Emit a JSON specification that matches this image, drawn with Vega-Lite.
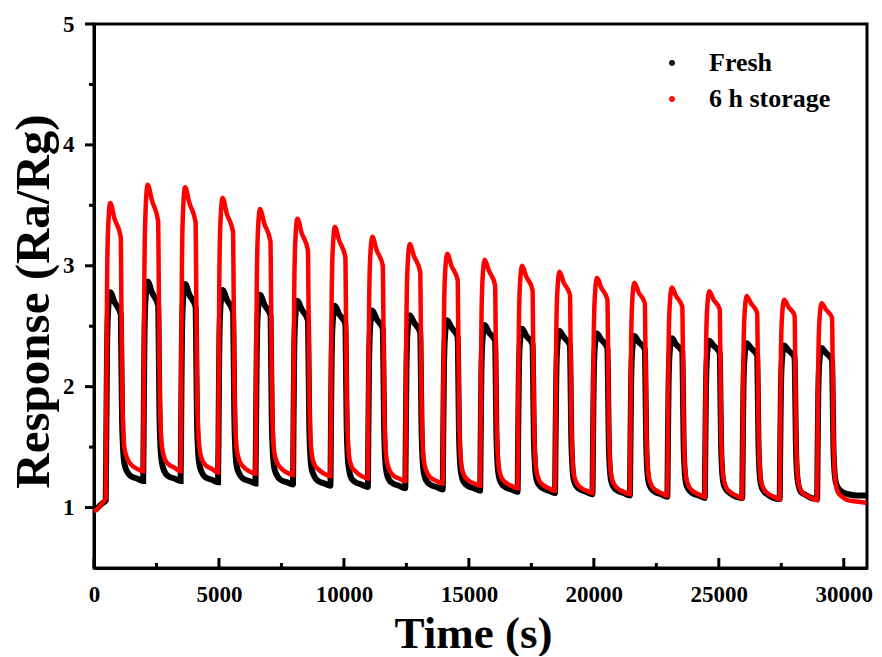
{
"$schema":"https://vega.github.io/schema/vega-lite/v6.json",
"width":773,"height":544,
"padding":{"left":8,"top":13,"right":0,"bottom":0},
"background":"white",
"config":{
"view":{"stroke":"black","strokeWidth":3}
},
"data":{"values":[
{"t":0,"a":0.98,"b":0.97},{"t":150,"a":1.0,"b":0.99},{"t":300,"a":1.03,"b":1.03},
{"t":470,"a":1.06,"b":1.08},{"t":495,"a":1.66,"b":1.93},{"t":520,"a":2.26,"b":2.79},{"t":560,"a":2.61,"b":3.28},{"t":650,"a":2.78,"b":3.52},{"t":820,"a":2.70,"b":3.39},{"t":1070,"a":2.60,"b":3.24},{"t":1090,"a":2.32,"b":2.85},{"t":1120,"a":1.77,"b":2.08},{"t":1160,"a":1.50,"b":1.69},{"t":1220,"a":1.36,"b":1.49},{"t":1320,"a":1.30,"b":1.41},{"t":1470,"a":1.26,"b":1.36},{"t":1720,"a":1.24,"b":1.32},
{"t":1968,"a":1.22,"b":1.30},{"t":1993,"a":1.80,"b":2.13},{"t":2018,"a":2.38,"b":2.96},{"t":2058,"a":2.71,"b":3.43},{"t":2148,"a":2.87,"b":3.67},{"t":2318,"a":2.78,"b":3.54},{"t":2568,"a":2.67,"b":3.37},{"t":2588,"a":2.38,"b":2.96},{"t":2618,"a":1.80,"b":2.13},{"t":2658,"a":1.51,"b":1.71},{"t":2718,"a":1.37,"b":1.51},{"t":2818,"a":1.30,"b":1.41},{"t":2968,"a":1.26,"b":1.36},{"t":3218,"a":1.24,"b":1.33},
{"t":3466,"a":1.22,"b":1.30},{"t":3491,"a":1.79,"b":2.12},{"t":3516,"a":2.36,"b":2.95},{"t":3556,"a":2.69,"b":3.42},{"t":3646,"a":2.85,"b":3.65},{"t":3816,"a":2.76,"b":3.52},{"t":4066,"a":2.66,"b":3.36},{"t":4086,"a":2.37,"b":2.95},{"t":4116,"a":1.79,"b":2.12},{"t":4156,"a":1.50,"b":1.70},{"t":4216,"a":1.36,"b":1.50},{"t":4316,"a":1.29,"b":1.40},{"t":4466,"a":1.25,"b":1.35},{"t":4716,"a":1.23,"b":1.32},
{"t":4964,"a":1.21,"b":1.29},{"t":4989,"a":1.77,"b":2.09},{"t":5014,"a":2.32,"b":2.88},{"t":5054,"a":2.64,"b":3.33},{"t":5144,"a":2.80,"b":3.56},{"t":5314,"a":2.72,"b":3.43},{"t":5564,"a":2.62,"b":3.28},{"t":5584,"a":2.34,"b":2.88},{"t":5614,"a":1.77,"b":2.08},{"t":5654,"a":1.48,"b":1.68},{"t":5714,"a":1.34,"b":1.48},{"t":5814,"a":1.28,"b":1.39},{"t":5964,"a":1.24,"b":1.34},{"t":6214,"a":1.22,"b":1.30},
{"t":6462,"a":1.20,"b":1.28},{"t":6487,"a":1.75,"b":2.05},{"t":6512,"a":2.29,"b":2.81},{"t":6552,"a":2.60,"b":3.25},{"t":6642,"a":2.76,"b":3.47},{"t":6812,"a":2.68,"b":3.35},{"t":7062,"a":2.59,"b":3.20},{"t":7082,"a":2.31,"b":2.81},{"t":7112,"a":1.75,"b":2.04},{"t":7152,"a":1.47,"b":1.66},{"t":7212,"a":1.33,"b":1.46},{"t":7312,"a":1.27,"b":1.38},{"t":7462,"a":1.23,"b":1.33},{"t":7712,"a":1.21,"b":1.29},
{"t":7960,"a":1.19,"b":1.27},{"t":7985,"a":1.72,"b":2.01},{"t":8010,"a":2.25,"b":2.75},{"t":8050,"a":2.56,"b":3.18},{"t":8140,"a":2.71,"b":3.39},{"t":8310,"a":2.64,"b":3.27},{"t":8560,"a":2.55,"b":3.13},{"t":8580,"a":2.28,"b":2.76},{"t":8610,"a":1.73,"b":2.01},{"t":8650,"a":1.45,"b":1.63},{"t":8710,"a":1.32,"b":1.45},{"t":8810,"a":1.26,"b":1.36},{"t":8960,"a":1.22,"b":1.32},{"t":9210,"a":1.20,"b":1.28},
{"t":9458,"a":1.18,"b":1.26},{"t":9483,"a":1.70,"b":1.98},{"t":9508,"a":2.22,"b":2.70},{"t":9548,"a":2.52,"b":3.11},{"t":9638,"a":2.67,"b":3.32},{"t":9808,"a":2.60,"b":3.21},{"t":10058,"a":2.52,"b":3.07},{"t":10078,"a":2.25,"b":2.70},{"t":10108,"a":1.71,"b":1.97},{"t":10148,"a":1.44,"b":1.61},{"t":10208,"a":1.31,"b":1.42},{"t":10308,"a":1.24,"b":1.34},{"t":10458,"a":1.21,"b":1.30},{"t":10708,"a":1.19,"b":1.26},
{"t":10956,"a":1.17,"b":1.24},{"t":10981,"a":1.68,"b":1.94},{"t":11006,"a":2.19,"b":2.64},{"t":11046,"a":2.48,"b":3.04},{"t":11136,"a":2.63,"b":3.24},{"t":11306,"a":2.56,"b":3.13},{"t":11556,"a":2.48,"b":3.00},{"t":11576,"a":2.22,"b":2.64},{"t":11606,"a":1.69,"b":1.93},{"t":11646,"a":1.42,"b":1.58},{"t":11706,"a":1.29,"b":1.40},{"t":11806,"a":1.23,"b":1.32},{"t":11956,"a":1.20,"b":1.27},{"t":12206,"a":1.18,"b":1.24},
{"t":12454,"a":1.16,"b":1.22},{"t":12479,"a":1.66,"b":1.91},{"t":12504,"a":2.16,"b":2.59},{"t":12544,"a":2.45,"b":2.98},{"t":12634,"a":2.59,"b":3.18},{"t":12804,"a":2.53,"b":3.08},{"t":13054,"a":2.45,"b":2.95},{"t":13074,"a":2.19,"b":2.60},{"t":13104,"a":1.67,"b":1.90},{"t":13144,"a":1.41,"b":1.55},{"t":13204,"a":1.28,"b":1.38},{"t":13304,"a":1.22,"b":1.30},{"t":13454,"a":1.19,"b":1.25},{"t":13704,"a":1.17,"b":1.22},
{"t":13952,"a":1.15,"b":1.20},{"t":13977,"a":1.64,"b":1.87},{"t":14002,"a":2.13,"b":2.53},{"t":14042,"a":2.41,"b":2.91},{"t":14132,"a":2.55,"b":3.10},{"t":14302,"a":2.49,"b":3.00},{"t":14552,"a":2.41,"b":2.88},{"t":14572,"a":2.16,"b":2.54},{"t":14602,"a":1.65,"b":1.86},{"t":14642,"a":1.39,"b":1.52},{"t":14702,"a":1.27,"b":1.35},{"t":14802,"a":1.21,"b":1.27},{"t":14952,"a":1.18,"b":1.23},{"t":15202,"a":1.16,"b":1.20},
{"t":15450,"a":1.14,"b":1.18},{"t":15475,"a":1.62,"b":1.83},{"t":15500,"a":2.10,"b":2.49},{"t":15540,"a":2.37,"b":2.86},{"t":15630,"a":2.51,"b":3.05},{"t":15800,"a":2.45,"b":2.96},{"t":16050,"a":2.38,"b":2.84},{"t":16070,"a":2.13,"b":2.50},{"t":16100,"a":1.63,"b":1.83},{"t":16140,"a":1.38,"b":1.50},{"t":16200,"a":1.26,"b":1.33},{"t":16300,"a":1.20,"b":1.25},{"t":16450,"a":1.17,"b":1.21},{"t":16700,"a":1.15,"b":1.18},
{"t":16948,"a":1.13,"b":1.16},{"t":16973,"a":1.60,"b":1.80},{"t":16998,"a":2.08,"b":2.45},{"t":17038,"a":2.35,"b":2.82},{"t":17128,"a":2.48,"b":3.00},{"t":17298,"a":2.42,"b":2.91},{"t":17548,"a":2.35,"b":2.80},{"t":17568,"a":2.10,"b":2.47},{"t":17598,"a":1.61,"b":1.80},{"t":17638,"a":1.37,"b":1.47},{"t":17698,"a":1.24,"b":1.31},{"t":17798,"a":1.19,"b":1.23},{"t":17948,"a":1.16,"b":1.19},{"t":18198,"a":1.14,"b":1.16},
{"t":18446,"a":1.12,"b":1.14},{"t":18471,"a":1.59,"b":1.77},{"t":18496,"a":2.06,"b":2.41},{"t":18536,"a":2.33,"b":2.77},{"t":18626,"a":2.46,"b":2.95},{"t":18796,"a":2.41,"b":2.86},{"t":19046,"a":2.34,"b":2.76},{"t":19066,"a":2.09,"b":2.43},{"t":19096,"a":1.60,"b":1.78},{"t":19136,"a":1.36,"b":1.45},{"t":19196,"a":1.23,"b":1.28},{"t":19296,"a":1.18,"b":1.21},{"t":19446,"a":1.15,"b":1.17},{"t":19696,"a":1.13,"b":1.14},
{"t":19944,"a":1.11,"b":1.12},{"t":19969,"a":1.58,"b":1.74},{"t":19994,"a":2.04,"b":2.37},{"t":20034,"a":2.31,"b":2.72},{"t":20124,"a":2.44,"b":2.90},{"t":20294,"a":2.39,"b":2.82},{"t":20544,"a":2.32,"b":2.72},{"t":20564,"a":2.08,"b":2.40},{"t":20594,"a":1.59,"b":1.75},{"t":20634,"a":1.34,"b":1.43},{"t":20694,"a":1.22,"b":1.27},{"t":20794,"a":1.17,"b":1.20},{"t":20944,"a":1.14,"b":1.16},{"t":21194,"a":1.12,"b":1.13},
{"t":21442,"a":1.10,"b":1.11},{"t":21467,"a":1.56,"b":1.72},{"t":21492,"a":2.02,"b":2.34},{"t":21532,"a":2.29,"b":2.69},{"t":21622,"a":2.42,"b":2.86},{"t":21792,"a":2.37,"b":2.78},{"t":22042,"a":2.31,"b":2.69},{"t":22062,"a":2.07,"b":2.37},{"t":22092,"a":1.58,"b":1.74},{"t":22132,"a":1.33,"b":1.42},{"t":22192,"a":1.21,"b":1.26},{"t":22292,"a":1.16,"b":1.19},{"t":22442,"a":1.13,"b":1.15},{"t":22692,"a":1.11,"b":1.12},
{"t":22940,"a":1.09,"b":1.10},{"t":22965,"a":1.55,"b":1.70},{"t":22990,"a":2.01,"b":2.30},{"t":23030,"a":2.27,"b":2.65},{"t":23120,"a":2.40,"b":2.82},{"t":23290,"a":2.35,"b":2.75},{"t":23540,"a":2.29,"b":2.66},{"t":23560,"a":2.05,"b":2.35},{"t":23590,"a":1.56,"b":1.72},{"t":23630,"a":1.32,"b":1.40},{"t":23690,"a":1.20,"b":1.25},{"t":23790,"a":1.15,"b":1.18},{"t":23940,"a":1.12,"b":1.14},{"t":24190,"a":1.10,"b":1.11},
{"t":24438,"a":1.08,"b":1.09},{"t":24463,"a":1.54,"b":1.69},{"t":24488,"a":1.99,"b":2.28},{"t":24528,"a":2.25,"b":2.62},{"t":24618,"a":2.38,"b":2.79},{"t":24788,"a":2.34,"b":2.72},{"t":25038,"a":2.28,"b":2.64},{"t":25058,"a":2.04,"b":2.33},{"t":25088,"a":1.56,"b":1.70},{"t":25128,"a":1.32,"b":1.39},{"t":25188,"a":1.20,"b":1.24},{"t":25288,"a":1.15,"b":1.17},{"t":25438,"a":1.12,"b":1.13},{"t":25688,"a":1.09,"b":1.10},
{"t":25936,"a":1.08,"b":1.08},{"t":25961,"a":1.53,"b":1.66},{"t":25986,"a":1.98,"b":2.25},{"t":26026,"a":2.23,"b":2.58},{"t":26116,"a":2.36,"b":2.75},{"t":26286,"a":2.32,"b":2.69},{"t":26536,"a":2.26,"b":2.61},{"t":26556,"a":2.02,"b":2.30},{"t":26586,"a":1.55,"b":1.69},{"t":26626,"a":1.31,"b":1.38},{"t":26686,"a":1.19,"b":1.22},{"t":26786,"a":1.14,"b":1.16},{"t":26936,"a":1.11,"b":1.12},{"t":27186,"a":1.08,"b":1.09},
{"t":27434,"a":1.07,"b":1.07},{"t":27459,"a":1.51,"b":1.65},{"t":27484,"a":1.96,"b":2.23},{"t":27524,"a":2.21,"b":2.56},{"t":27614,"a":2.34,"b":2.72},{"t":27784,"a":2.30,"b":2.66},{"t":28034,"a":2.24,"b":2.59},{"t":28054,"a":2.01,"b":2.28},{"t":28084,"a":1.54,"b":1.67},{"t":28124,"a":1.30,"b":1.37},{"t":28184,"a":1.19,"b":1.21},{"t":28284,"a":1.13,"b":1.14},{"t":28434,"a":1.11,"b":1.11},{"t":28684,"a":1.08,"b":1.08},
{"t":28932,"a":1.07,"b":1.06},{"t":28957,"a":1.51,"b":1.63},{"t":28982,"a":1.95,"b":2.20},{"t":29022,"a":2.20,"b":2.53},{"t":29112,"a":2.32,"b":2.69},{"t":29282,"a":2.28,"b":2.64},{"t":29532,"a":2.22,"b":2.57},{"t":29552,"a":2.00,"b":2.26},{"t":29582,"a":1.55,"b":1.65},{"t":29622,"a":1.32,"b":1.35},{"t":29682,"a":1.21,"b":1.19},{"t":29782,"a":1.16,"b":1.12},{"t":29932,"a":1.13,"b":1.09},{"t":30182,"a":1.11,"b":1.06},{"t":30500,"a":1.10,"b":1.05},{"t":30900,"a":1.10,"b":1.04}
]},
"layer":[
{"mark":{"type":"line","strokeWidth":6,"interpolate":"monotone"},
"encoding":{
"x":{"field":"t","type":"quantitative","title":"Time (s)","scale":{"domain":[0,30930],"nice":false,"zero":false},
"axis":{"grid":false,"values":[0,5000,10000,15000,20000,25000,30000],"format":"d","tickSize":-10,"tickWidth":3,"tickColor":"transparent","domainWidth":3,"domainColor":"black","labelPadding":25,"labelFont":"Liberation Serif","labelFontWeight":"bold","labelFontSize":23,"labelColor":"black","labelFlush":false,"labelOverlap":false,"title":"Time (s)","titleFont":"Liberation Serif","titleFontWeight":"bold","titleColor":"black","titleFontSize":45,"titleX":379,"titleY":79,"titleAlign":"center","titleBaseline":"alphabetic"}},
"y":{"field":"a","type":"quantitative","title":"Response (Ra/Rg)","scale":{"domain":[0.5,5],"nice":false,"zero":false},
"axis":{"grid":false,"values":[1,2,3,4,5],"format":"d","tickSize":9,"tickWidth":3,"tickColor":"transparent","domainWidth":3,"domainColor":"black","labelPadding":11,"labelFont":"Liberation Serif","labelFontWeight":"bold","labelFontSize":23,"labelColor":"black","labelFlush":false,"labelOverlap":false,"title":"Response (Ra/Rg)","titleFont":"Liberation Serif","titleFontWeight":"bold","titleColor":"black","titleFontSize":49,"titleAngle":-90,"titleX":-46,"titleY":277,"titleAlign":"center","titleBaseline":"alphabetic"}},
"color":{"datum":"Fresh","type":"nominal","scale":{"domain":["Fresh","6 h storage"],"range":["#000000","#ff0000"]},
"legend":{"orient":"none","legendX":565,"legendY":26,"title":null,"labelFont":"Liberation Serif","labelFontSize":26,"labelFontWeight":"bold","labelColor":"black","symbolType":"circle","symbolSize":12,"symbolStrokeWidth":2.5,"labelOffset":24,"rowPadding":10}}
}},
{"mark":{"type":"line","strokeWidth":4.5,"interpolate":"monotone"},
"encoding":{
"x":{"field":"t","type":"quantitative","title":"Time (s)"},
"y":{"field":"b","type":"quantitative","title":"Response (Ra/Rg)"},
"color":{"datum":"6 h storage","type":"nominal"}
}},
{"data":{"values":[{"v":0},{"v":5000},{"v":10000},{"v":15000},{"v":20000},{"v":25000},{"v":30000}]},
"mark":{"type":"tick","orient":"vertical","size":10,"thickness":3,"color":"black","opacity":1,"yOffset":-5},
"encoding":{"x":{"field":"v","type":"quantitative","title":"Time (s)"},"y":{"datum":0.5,"type":"quantitative"}}},
{"data":{"values":[{"v":2500},{"v":7500},{"v":12500},{"v":17500},{"v":22500},{"v":27500}]},
"mark":{"type":"tick","orient":"vertical","size":5,"thickness":3,"color":"black","opacity":1,"yOffset":-2.5},
"encoding":{"x":{"field":"v","type":"quantitative","title":"Time (s)"},"y":{"datum":0.5,"type":"quantitative"}}},
{"data":{"values":[{"v":1},{"v":2},{"v":3},{"v":4},{"v":5}]},
"mark":{"type":"tick","orient":"horizontal","size":9,"thickness":3,"color":"black","opacity":1,"xOffset":-4.5},
"encoding":{"y":{"field":"v","type":"quantitative","title":"Response (Ra/Rg)"},"x":{"datum":0,"type":"quantitative"}}},
{"data":{"values":[{"v":1.5},{"v":2.5},{"v":3.5},{"v":4.5}]},
"mark":{"type":"tick","orient":"horizontal","size":5,"thickness":3,"color":"black","opacity":1,"xOffset":-2.5},
"encoding":{"y":{"field":"v","type":"quantitative","title":"Response (Ra/Rg)"},"x":{"datum":0,"type":"quantitative"}}}
]
}
